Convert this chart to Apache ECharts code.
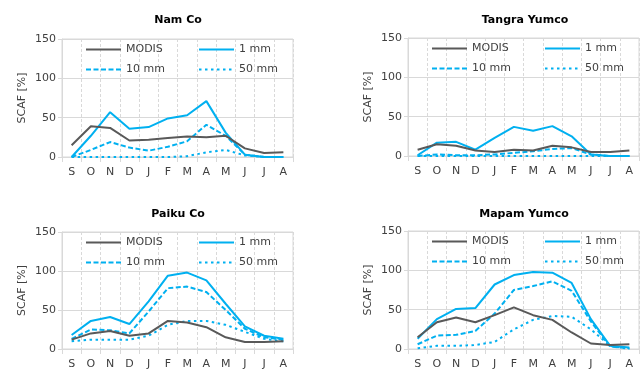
<!DOCTYPE html>
<html>
<head>
<meta charset="utf-8">
<script src="https://cdn.jsdelivr.net/npm/echarts@6/dist/echarts.min.js"></script>
<style>html,body{margin:0;padding:0;background:#fff}#c{width:640px;height:370px}</style>
</head>
<body>
<div id="c"></div>
<script>
const months = ['S','O','N','D','J','F','M','A','M','J','J','A'];
const seriesNames = ['MODIS','1 mm','10 mm','50 mm'];
const lakeNames = ['Nam Co','Tangra Yumco','Paiku Co','Mapam Yumco'];
const yTicks = [0, 50, 100, 150];

const namCoModis = [15, 39, 37, 21, 22, 24, 26, 25, 27, 11, 5, 6];
const namCo1mm   = [0, 27, 57, 36, 38, 49, 53, 71, 31, 3, 0, 0];
const namCo10mm  = [0, 9, 19, 12, 8, 13, 20, 41, 27, 3, 0, 0];
const namCo50mm  = [0, 0, 0, 0, 0, 0, 1, 6, 9, 2, 0, 0];

const tangraModis = [8, 15, 13, 7, 5, 8, 7, 13, 11, 5, 5, 7];
const tangra1mm   = [1, 17, 18, 8, 23, 37, 32, 38, 25, 2, 0, 0];
const tangra10mm  = [0, 2, 1, 1, 2, 4, 6, 9, 10, 2, 0, 0];
const tangra50mm  = [0, 0, 0, 0, 0, 0, 0, 0, 0, 0, 0, 0];

const paikuModis = [12, 20, 23, 17, 20, 36, 34, 28, 15, 9, 9, 10];
const paiku1mm   = [18, 36, 41, 32, 61, 94, 98, 88, 58, 29, 17, 13];
const paiku10mm  = [13, 25, 24, 20, 48, 78, 80, 73, 50, 26, 15, 12];
const paiku50mm  = [10, 12, 12, 12, 17, 31, 36, 36, 31, 22, 13, 10];

const mapamModis = [15, 34, 40, 34, 43, 53, 43, 37, 21, 7, 5, 6];
const mapam1mm   = [13, 38, 51, 52, 82, 94, 98, 97, 84, 38, 4, 2];
const mapam10mm  = [6, 17, 18, 23, 45, 75, 80, 86, 74, 35, 3, 1];
const mapam50mm  = [1, 4, 4, 5, 9, 25, 37, 42, 41, 25, 4, 0];

const panelData = [
  [namCoModis, namCo1mm, namCo10mm, namCo50mm],
  [tangraModis, tangra1mm, tangra10mm, tangra50mm],
  [paikuModis, paiku1mm, paiku10mm, paiku50mm],
  [mapamModis, mapam1mm, mapam10mm, mapam50mm]
];

const FONT = 'DejaVu Sans';
const TXT = '#404040';
const GREY = '#595959';
const BLUE = '#00B0F0';
const styles = [
  {color: GREY, type: 'solid'},
  {color: BLUE, type: 'solid'},
  {color: BLUE, type: [5, 2.5]},
  {color: BLUE, type: [2.5, 3.5]}
];

const grids = [
  {left: 62, top: 39, width: 231, height: 118},
  {left: 408, top: 38, width: 231, height: 118},
  {left: 62, top: 232, width: 231, height: 117},
  {left: 408, top: 231, width: 231, height: 118}
];
const titlePos = [[173, 10], [520, 10], [173, 204], [519, 204]];

const option = {
  animation: false,
  backgroundColor: '#fff',
  title: lakeNames.map((n, i) => ({
    text: n, left: titlePos[i][0], top: titlePos[i][1], textAlign: 'center',
    textStyle: {fontFamily: FONT, fontSize: 11, fontWeight: 'bold', color: '#000'}
  })),
  grid: grids.map(g => Object.assign({show: true, borderColor: '#d9d9d9', borderWidth: 1, backgroundColor: 'transparent'}, g)),
  xAxis: grids.map((g, i) => ({
    type: 'category', gridIndex: i, data: months, boundaryGap: true,
    axisLine: {lineStyle: {color: '#d9d9d9'}},
    axisTick: {show: true, length: 5, lineStyle: {color: '#d9d9d9'}},
    axisLabel: {fontFamily: FONT, fontSize: 11, color: TXT, margin: 10, interval: 0},
    splitLine: {show: true, lineStyle: {color: '#d9d9d9', type: [3, 2]}}
  })),
  yAxis: grids.map((g, i) => ({
    type: 'value', gridIndex: i, min: yTicks[0], max: yTicks[yTicks.length - 1], interval: 50,
    name: 'SCAF [%]', nameLocation: 'middle', nameGap: 34, nameRotate: 90,
    nameTextStyle: {fontFamily: FONT, fontSize: 11, color: TXT},
    axisLine: {show: true, lineStyle: {color: '#d9d9d9'}},
    axisTick: {show: true, length: 4, lineStyle: {color: '#d9d9d9'}},
    axisLabel: {fontFamily: FONT, fontSize: 11, color: TXT, margin: 6},
    splitLine: {show: true, lineStyle: {color: '#d9d9d9'}}
  })),
  legend: [],
  series: []
};

grids.forEach((g, i) => {
  const common = {
    orient: 'vertical', padding: 0, itemWidth: 35, itemHeight: 10, itemGap: 9,
    itemStyle: {opacity: 0},
    textStyle: {fontFamily: FONT, fontSize: 11, color: TXT}, selectedMode: false
  };
  option.legend.push(Object.assign({left: g.left + 23, top: g.top + 5, data: ['MODIS', '10 mm']}, common));
  option.legend.push(Object.assign({left: g.left + 136, top: g.top + 5, data: ['1 mm', '50 mm']}, common));
  seriesNames.forEach((name, k) => {
    option.series.push({
      type: 'line', name: name, xAxisIndex: i, yAxisIndex: i,
      data: panelData[i][k], symbol: 'none', showSymbol: false,
      lineStyle: {color: styles[k].color, width: 2, type: styles[k].type},
      itemStyle: {color: styles[k].color},
      z: 10 - k
    });
  });
});

const chart = echarts.init(document.getElementById('c'), null, {renderer: 'canvas'});
chart.setOption(option);
</script>
</body>
</html>
